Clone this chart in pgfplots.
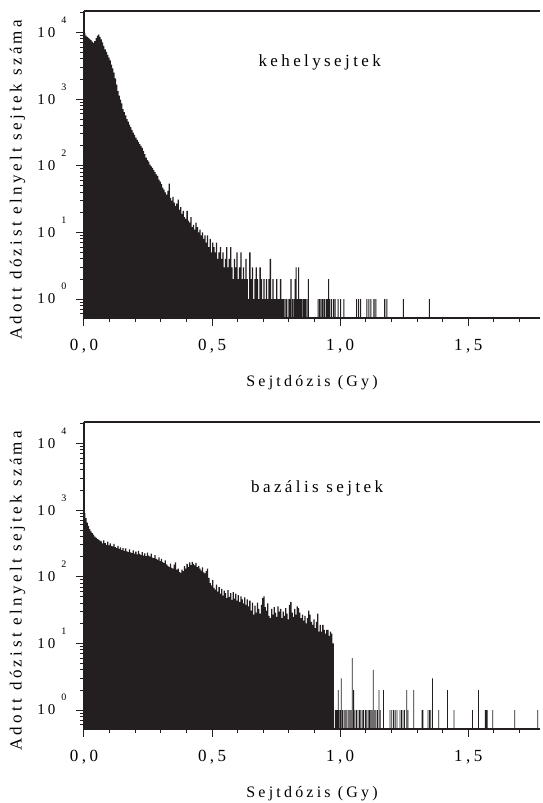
\documentclass[border=0pt]{standalone}
\usepackage{fontspec}
\setmainfont{Liberation Serif}[LetterSpace=20]
\usepackage{pgfplots}
\pgfplotsset{compat=1.18}
\definecolor{barc}{RGB}{35,31,32}
\newcommand{\pw}[1]{\fontsize{15}{15}\selectfont 10\hspace{6pt}\raisebox{14pt}[0pt][0pt]{\fontsize{10}{10}\selectfont #1}}
\pgfplotsset{
  scale only axis, width=456pt, height=307pt,
  xmin=0, xmax=1.78, ymin=0.52, ymax=21000,
  axis lines*=left,
  axis line style={line width=1.4pt, barc, -},
  xtick={0,0.5,1,1.5}, xticklabels={{0,0},{0,5},{1,0},{1,5}},
  minor xtick={0.1,0.2,0.3,0.4,0.6,0.7,0.8,0.9,1.1,1.2,1.3,1.4,1.6,1.7},
  ytick={1,10,100,1000,10000},
  yticklabels={\pw{0},\pw{1},\pw{2},\pw{3},\pw{4}},
  minor ytick={0.6,0.7,0.8,0.9,2,3,4,5,6,7,8,9,20,30,40,50,60,70,80,90,200,300,400,500,600,700,800,900,2000,3000,4000,5000,6000,7000,8000,9000,20000},
  tick align=outside, major tick length=8pt, minor tick length=4pt,
  every tick/.style={line width=1pt, barc},
  xticklabel style={font=\fontsize{17}{17}\selectfont, yshift=-10pt},
  yticklabel style={xshift=-6pt},
  every axis x label/.style={at={(axis description cs:0.5,0)}, yshift=-65pt, anchor=center, font=\fontsize{16}{16}\selectfont},
  every axis y label/.style={at={(axis description cs:-0.146,0.45)}, rotate=90, anchor=center, font=\fontsize{17}{17}\selectfont},
  clip mode=individual,
}
\begin{document}
\begin{tikzpicture}
\path[use as bounding box] (0,0) rectangle (542pt,803pt);
% ---------------- top: kehelysejtek ----------------
\begin{axis}[ymode=log, at={(84pt,485pt)}, anchor=south west,
  xlabel={Sejtdózis (Gy)}, ylabel={Adott dózist elnyelt sejtek száma}]
\addplot[fill=barc, draw=none, const plot mark left] coordinates {
(0,0.1)(0,9800)(0.005,9000)(0.010,8600)(0.015,8300)(0.020,8000)(0.025,7700)(0.030,7300)(0.035,7000)
(0.040,7400)(0.045,8200)(0.050,9000)(0.055,9300)(0.060,8600)(0.065,7900)(0.070,7100)(0.075,6300)
(0.080,5600)(0.085,5100)(0.090,4600)(0.095,4200)(0.100,3800)(0.105,3300)(0.110,2900)(0.115,2500)
(0.120,2050)(0.125,1650)(0.130,1320)(0.135,1130)(0.140,980)(0.145,860)(0.150,710)(0.155,640)
(0.160,570)(0.165,500)(0.170,460)(0.175,415)(0.180,380)(0.185,345)(0.190,315)(0.195,290)
(0.200,265)(0.205,245)(0.210,228)(0.215,212)(0.220,198)(0.225,186)(0.230,168)(0.235,150)
(0.240,132)(0.245,121)(0.250,115)(0.255,104)(0.260,98)(0.265,93)(0.270,86)(0.275,80)
(0.280,74)(0.285,70)(0.290,62)(0.295,58)(0.300,53)(0.305,47)(0.310,44)(0.315,40)
(0.320,37)(0.325,42)(0.330,54)(0.335,33)(0.340,30)(0.345,34)(0.350,28)(0.355,25)
(0.360,27)(0.365,31)(0.370,22)(0.375,24)(0.380,19)(0.385,21)(0.390,17)(0.395,16)
(0.400,21)(0.405,15)(0.410,14)(0.415,17)(0.420,12)(0.425,13)(0.430,11)(0.435,14)
(0.440,12)(0.445,10)(0.450,11)(0.455,9)(0.460,10)(0.465,8)(0.470,9)(0.475,7)
(0.480,9)(0.485,6)(0.490,8)(0.495,5)(0.500,7)(0.505,6)(0.510,5)(0.515,7)
(0.520,4)(0.525,5)(0.530,6)(0.535,4)(0.540,5)(0.545,3)(0.550,4)(0.555,6)
(0.560,3)(0.565,4)(0.570,6)(0.575,3)(0.580,2)(0.585,4)(0.590,3)(0.595,5)
(0.600,2)(0.605,3)(0.610,5)(0.615,2)(0.620,3)(0.625,2)(0.630,4)(0.635,2)
(0.640,1)(0.645,5)(0.650,2)(0.655,3)(0.660,1)(0.665,2)(0.670,3)(0.675,2)
(0.680,1)(0.685,3)(0.690,2)(0.695,1)(0.700,2)(0.705,1)(0.710,2)(0.715,1)
(0.720,2)(0.725,4)(0.730,1)(0.735,2)(0.740,1)(0.745,1)(0.750,2)(0.755,1)
(0.760,1)(0.765,2)(0.770,1)(0.775,1)(0.780,0.1)
(0.782,0.1)(0.782,1)(0.786,0.1)(0.788,0.1)(0.788,1)(0.792,0.1)(0.795,0.1)(0.795,1)(0.799,0.1)
(0.801,0.1)(0.801,1)(0.805,0.1)(0.806,0.1)(0.806,2)(0.810,0.1)(0.812,0.1)(0.812,1)(0.816,0.1)
(0.818,0.1)(0.818,1)(0.821,0.1)(0.822,0.1)(0.822,2)(0.825,0.1)(0.826,0.1)(0.826,3)(0.830,0.1)
(0.831,0.1)(0.831,1)(0.835,0.1)(0.836,0.1)(0.836,3)(0.840,0.1)(0.841,0.1)(0.841,1)(0.845,0.1)
(0.846,0.1)(0.846,1)(0.850,0.1)(0.852,0.1)(0.852,1)(0.856,0.1)(0.857,0.1)(0.857,1)(0.861,0.1)
(0.862,0.1)(0.862,1)(0.866,0.1)(0.868,0.1)(0.868,1)(0.872,0.1)(0.874,0.1)(0.874,2)(0.878,0.1)
(0.912,0.1)(0.912,1)(0.916,0.1)(0.918,0.1)(0.918,1)(0.922,0.1)(0.924,0.1)(0.924,1)(0.928,0.1)
(0.930,0.1)(0.930,1)(0.934,0.1)(0.936,0.1)(0.936,1)(0.940,0.1)(0.943,0.1)(0.943,1)(0.947,0.1)
(0.948,0.1)(0.948,1)(0.952,0.1)(0.953,0.1)(0.953,2)(0.957,0.1)(0.958,0.1)(0.958,1)(0.962,0.1)
(0.965,0.1)(0.965,1)(0.969,0.1)(0.972,0.1)(0.972,1)(0.976,0.1)(0.978,0.1)(0.978,1)(0.982,0.1)
(0.990,0.1)(0.990,1)(0.994,0.1)(1.000,0.1)(1.000,1)(1.004,0.1)(1.012,0.1)(1.012,1)(1.016,0.1)
(1.062,0.1)(1.062,1)(1.066,0.1)(1.070,0.1)(1.070,1)(1.074,0.1)(1.078,0.1)(1.078,1)(1.082,0.1)
(1.102,0.1)(1.102,1)(1.106,0.1)(1.110,0.1)(1.110,1)(1.114,0.1)(1.118,0.1)(1.118,1)(1.122,0.1)
(1.130,0.1)(1.130,1)(1.134,0.1)(1.137,0.1)(1.137,1)(1.141,0.1)(1.172,0.1)(1.172,1)(1.176,0.1)
(1.180,0.1)(1.180,1)(1.184,0.1)(1.245,0.1)(1.245,1)(1.249,0.1)(1.346,0.1)(1.346,1)(1.350,0.1)};
\draw[barc, line width=1.4pt] (rel axis cs:0,1) -- (rel axis cs:1,1);
\node[font=\fontsize{17}{17}\selectfont] at (axis cs:0.92,3500) {kehelysejtek};
\end{axis}
% ---------------- bottom: bazalis sejtek ----------------
\begin{axis}[ymode=log, at={(84pt,74pt)}, anchor=south west,
  xlabel={Sejtdózis (Gy)}, ylabel={Adott dózist elnyelt sejtek száma}]
\addplot[fill=barc, draw=none, const plot mark left] coordinates {
(0,0.1)(0,900)(0.005,760)(0.010,650)(0.015,580)(0.020,520)(0.025,480)(0.030,450)(0.035,430)
(0.040,400)(0.045,385)(0.050,370)(0.055,360)(0.060,350)(0.065,340)(0.070,318)(0.075,352)
(0.080,320)(0.085,300)(0.090,338)(0.095,296)(0.100,316)(0.105,290)(0.110,285)(0.115,312)
(0.120,278)(0.125,270)(0.130,292)(0.135,262)(0.140,276)(0.145,252)(0.150,270)(0.155,244)
(0.160,266)(0.165,240)(0.170,234)(0.175,258)(0.180,232)(0.185,226)(0.190,250)(0.195,222)
(0.200,238)(0.205,216)(0.210,244)(0.215,220)(0.220,212)(0.225,234)(0.230,208)(0.235,224)
(0.240,204)(0.245,230)(0.250,208)(0.255,200)(0.260,222)(0.265,194)(0.270,190)(0.275,212)
(0.280,186)(0.285,180)(0.290,196)(0.295,172)(0.300,186)(0.305,166)(0.310,160)(0.315,176)
(0.320,154)(0.325,146)(0.330,140)(0.335,158)(0.340,136)(0.345,132)(0.350,152)(0.355,165)
(0.360,128)(0.365,132)(0.370,118)(0.375,114)(0.380,128)(0.385,122)(0.390,144)(0.395,132)
(0.400,156)(0.405,140)(0.410,165)(0.415,150)(0.420,168)(0.425,156)(0.430,148)(0.435,162)
(0.440,140)(0.445,146)(0.450,132)(0.455,124)(0.460,138)(0.465,116)(0.470,112)(0.475,122)
(0.480,132)(0.485,96)(0.490,80)(0.495,74)(0.500,90)(0.505,68)(0.510,64)(0.515,76)
(0.520,60)(0.525,70)(0.530,56)(0.535,66)(0.540,52)(0.545,62)(0.550,57)(0.555,48)
(0.560,63)(0.565,50)(0.570,57)(0.575,45)(0.580,59)(0.585,47)(0.590,56)(0.595,44)
(0.600,53)(0.605,42)(0.610,51)(0.615,46)(0.620,40)(0.625,49)(0.630,38)(0.635,46)
(0.640,36)(0.645,44)(0.650,31)(0.655,41)(0.660,27)(0.665,37)(0.670,29)(0.675,41)
(0.680,33)(0.685,28)(0.690,38)(0.695,48)(0.700,51)(0.705,35)(0.710,31)(0.715,40)
(0.720,26)(0.725,24)(0.730,33)(0.735,27)(0.740,35)(0.745,29)(0.750,25)(0.755,36)
(0.760,30)(0.765,33)(0.770,24)(0.775,30)(0.780,26)(0.785,34)(0.790,28)(0.795,23)
(0.800,38)(0.805,42)(0.810,29)(0.815,25)(0.820,33)(0.825,27)(0.830,36)(0.835,34)
(0.840,29)(0.845,24)(0.850,27)(0.855,22)(0.860,26)(0.865,20)(0.870,24)(0.875,31)
(0.880,27)(0.885,21)(0.890,19)(0.895,23)(0.900,17)(0.905,21)(0.910,28)(0.915,15)
(0.920,19)(0.925,15)(0.930,19)(0.935,16)(0.940,14)(0.945,16)(0.950,16)(0.955,13)
(0.960,15)(0.965,14)(0.970,10)(0.975,0.1)
(0.979,0.1)(0.979,1)(0.982,0.1)(0.983,0.1)(0.983,1)(0.986,0.1)(0.987,0.1)(0.987,1)(0.990,0.1)
(0.991,0.1)(0.991,2)(0.994,0.1)(0.995,0.1)(0.995,1)(0.998,0.1)(1.000,0.1)(1.000,1)(1.002,0.1)
(1.003,0.1)(1.003,3)(1.006,0.1)(1.008,0.1)(1.008,1)(1.011,0.1)(1.013,0.1)(1.013,1)(1.016,0.1)
(1.018,0.1)(1.018,1)(1.021,0.1)(1.024,0.1)(1.024,1)(1.027,0.1)(1.030,0.1)(1.030,1)(1.033,0.1)
(1.036,0.1)(1.036,1)(1.039,0.1)(1.041,0.1)(1.041,1)(1.044,0.1)(1.046,0.1)(1.046,6)(1.049,0.1)
(1.051,0.1)(1.051,2)(1.054,0.1)(1.056,0.1)(1.056,1)(1.059,0.1)(1.062,0.1)(1.062,1)(1.065,0.1)
(1.068,0.1)(1.068,1)(1.071,0.1)(1.074,0.1)(1.074,1)(1.077,0.1)(1.079,0.1)(1.079,1)(1.082,0.1)
(1.085,0.1)(1.085,1)(1.088,0.1)(1.090,0.1)(1.090,1)(1.093,0.1)(1.097,0.1)(1.097,1)(1.100,0.1)
(1.102,0.1)(1.102,1)(1.105,0.1)(1.108,0.1)(1.108,1)(1.111,0.1)(1.113,0.1)(1.113,1)(1.116,0.1)
(1.118,0.1)(1.118,1)(1.121,0.1)(1.123,0.1)(1.123,1)(1.126,0.1)(1.128,0.1)(1.128,4)(1.131,0.1)
(1.133,0.1)(1.133,1)(1.136,0.1)(1.138,0.1)(1.138,1)(1.141,0.1)(1.144,0.1)(1.144,1)(1.147,0.1)
(1.150,0.1)(1.150,2)(1.153,0.1)(1.155,0.1)(1.155,1)(1.158,0.1)(1.168,0.1)(1.168,2)(1.171,0.1)
(1.193,0.1)(1.193,1)(1.196,0.1)(1.200,0.1)(1.200,1)(1.203,0.1)(1.207,0.1)(1.207,1)(1.210,0.1)
(1.213,0.1)(1.213,1)(1.216,0.1)(1.220,0.1)(1.220,1)(1.223,0.1)(1.232,0.1)(1.232,1)(1.235,0.1)
(1.238,0.1)(1.238,1)(1.241,0.1)(1.244,0.1)(1.244,1)(1.247,0.1)(1.250,0.1)(1.250,1)(1.253,0.1)
(1.258,0.1)(1.258,2)(1.261,0.1)(1.263,0.1)(1.263,1)(1.266,0.1)(1.286,0.1)(1.286,2)(1.289,0.1)
(1.318,0.1)(1.318,1)(1.321,0.1)(1.322,0.1)(1.322,1)(1.325,0.1)(1.341,0.1)(1.341,1)(1.344,0.1)
(1.347,0.1)(1.347,1)(1.350,0.1)(1.352,0.1)(1.352,1)(1.355,0.1)(1.359,0.1)(1.359,3)(1.362,0.1)
(1.383,0.1)(1.383,1)(1.386,0.1)(1.417,0.1)(1.417,2)(1.420,0.1)(1.443,0.1)(1.443,1)(1.446,0.1)
(1.515,0.1)(1.515,1)(1.518,0.1)(1.538,0.1)(1.538,2)(1.541,0.1)(1.565,0.1)(1.565,1)(1.568,0.1)
(1.569,0.1)(1.569,1)(1.572,0.1)(1.573,0.1)(1.573,1)(1.576,0.1)(1.594,0.1)(1.594,1)(1.597,0.1)
(1.680,0.1)(1.680,1)(1.683,0.1)(1.770,0.1)(1.770,1)(1.773,0.1)};
\draw[barc, line width=1.4pt] (rel axis cs:0,1) -- (rel axis cs:1,1);
\node[font=\fontsize{17}{17}\selectfont] at (axis cs:0.91,2130) {bazális sejtek};
\end{axis}
\end{tikzpicture}
\end{document}
